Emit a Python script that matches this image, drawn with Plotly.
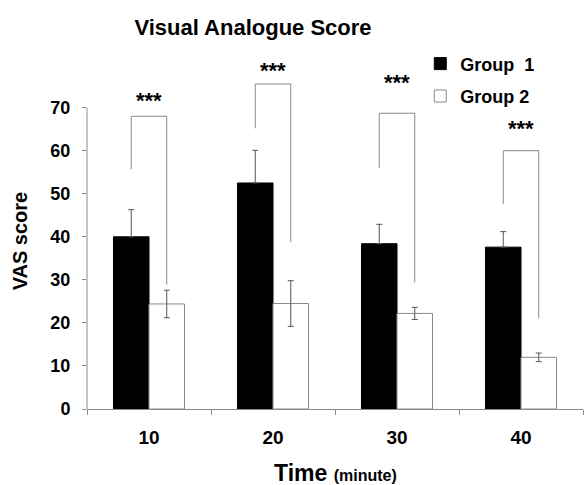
import plotly.graph_objects as go

# ---- data ----
times = ["10", "20", "30", "40"]
series_names = ["Group  1", "Group 2"]
group1 = [40.0, 52.5, 38.4, 37.6]
group1_err = [6.3, 7.6, 4.5, 3.6]
group2 = [24.4, 24.5, 22.2, 12.0]
group2_err = [3.2, 5.3, 1.4, 1.0]
# significance brackets (value units)
bracket_top = [68.0, 75.5, 68.7, 60.0]
bracket_left_end = [55.7, 65.2, 55.9, 47.6]
bracket_right_end = [28.9, 38.8, 29.4, 21.1]
star_y = [72.8, 79.8, 77.0, 66.4]
star_text = ["***", "***", "***", "***"]
y_ticks = [0, 10, 20, 30, 40, 50, 60, 70]

FONT = "Arial, Liberation Sans, sans-serif"
GRAY = "#8a8a8a"

fig = go.Figure()
fig.add_trace(go.Bar(
    x=times, y=group1, name=series_names[0], legendgroup="g1",
    marker=dict(color="black", line=dict(color="black", width=1)),
    error_y=dict(type="data", array=group1_err, arrayminus=[0] * len(group1_err),
                 color="#555555", thickness=1, width=3),
))
fig.add_trace(go.Bar(
    x=times, y=group2, name=series_names[1], legendgroup="g2",
    marker=dict(color="white", line=dict(color=GRAY, width=1)),
    error_y=dict(type="data", array=group2_err, symmetric=True,
                 color="#555555", thickness=1, width=3),
))

bar_w = (1 - 0.427) / 2
shapes = []
for i in range(len(times)):
    xl = i - bar_w / 2
    xr = i + bar_w / 2
    shapes.append(dict(type="path", xref="x", yref="y",
                       path=f"M {xl},{bracket_left_end[i]} L {xl},{bracket_top[i]} "
                            f"L {xr},{bracket_top[i]} L {xr},{bracket_right_end[i]}",
                       line=dict(color=GRAY, width=1)))
# y axis line only up to 70
shapes.append(dict(type="line", xref="paper", yref="y", x0=0, x1=0, y0=0, y1=y_ticks[-1],
                   line=dict(color=GRAY, width=1)))

annotations = []
for i in range(len(times)):
    annotations.append(dict(x=i, y=star_y[i], xref="x", yref="y", text=star_text[i],
                            showarrow=False,
                            font=dict(size=22, family=FONT, color="black", weight="bold"),
                            yanchor="middle", yshift=-5))
annotations.append(dict(x=0.5, y=-0.1815, xref="paper", yref="paper",
                        text="Time <span style='font-size:16px'>(minute)</span>",
                        showarrow=False,
                        font=dict(size=23, family=FONT, color="black", weight="bold"),
                        yanchor="middle"))
annotations.append(dict(x=-0.135, y=0.475, xref="paper", yref="paper",
                        text="VAS score", textangle=-90,
                        showarrow=False,
                        font=dict(size=20, family=FONT, color="black", weight="bold"),
                        xanchor="center", yanchor="middle"))

fig.update_layout(
    width=587, height=485,
    margin=dict(l=87, r=4, t=56, b=76),
    paper_bgcolor="white", plot_bgcolor="white",
    barmode="group", bargap=0.427, bargroupgap=0,
    font=dict(family=FONT, color="black"),
    title=dict(text="Visual Analogue Score", x=0.431, xanchor="center",
               y=0.944, yanchor="middle",
               font=dict(size=22, family=FONT, color="black", weight="bold")),
    showlegend=True,
    legend=dict(x=0.672, y=1.03, xanchor="left", yanchor="top",
                font=dict(size=18, family=FONT, color="black", weight="bold"),
                tracegroupgap=6,
                bgcolor="rgba(0,0,0,0)", itemclick=False, itemdoubleclick=False),
    shapes=shapes, annotations=annotations,
)
fig.update_xaxes(type="category", range=[-0.5, 3.5], showline=True, linecolor=GRAY, linewidth=1,
                 ticks="outside", ticklen=5, tickcolor=GRAY, tickson="boundaries",
                 tickfont=dict(size=19, family=FONT, color="black", weight="bold"),
                 ticklabelstandoff=11, showgrid=False, zeroline=False)
fig.update_yaxes(range=[0, 82], showline=False, tickvals=y_ticks,
                 ticks="outside", ticklen=4, tickcolor=GRAY,
                 tickfont=dict(size=18, family=FONT, color="black", weight="bold"),
                 ticklabelstandoff=8, showgrid=False, zeroline=False)

fig.write_html("out.html", config={"displayModeBar": False},
               post_script="document.body.style.margin='0';")
